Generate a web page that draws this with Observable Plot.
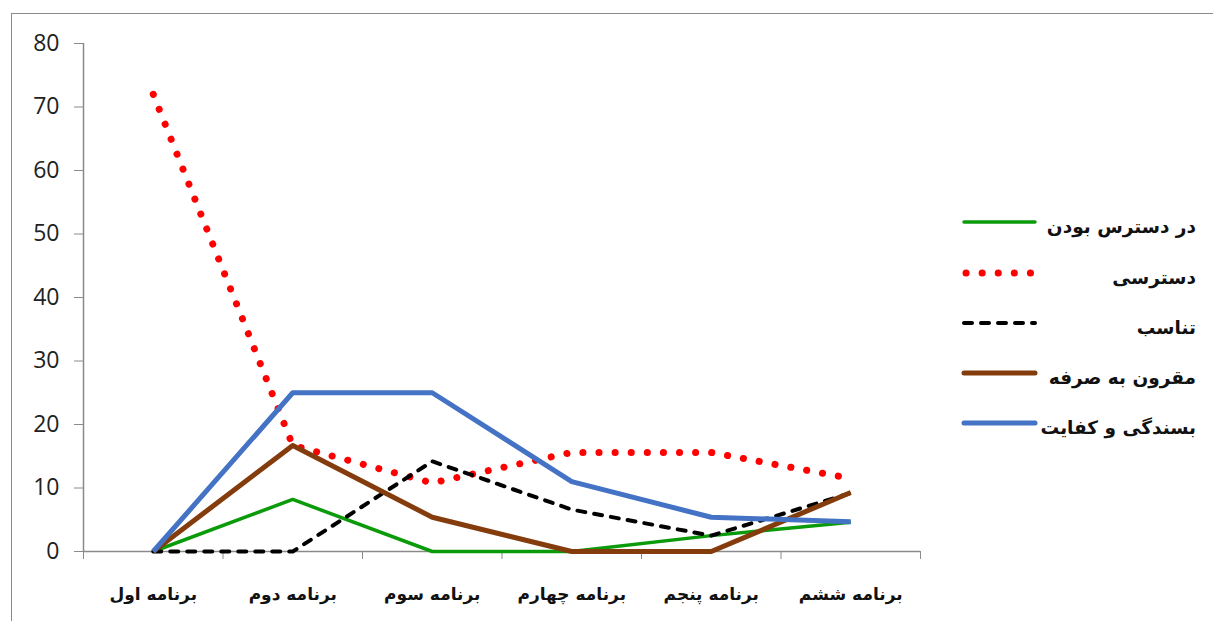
<!DOCTYPE html>
<html>
<head>
<meta charset="utf-8">
<script src="https://cdn.jsdelivr.net/npm/d3@7"></script>
<script src="https://cdn.jsdelivr.net/npm/@observablehq/plot@0.6"></script>
<style>
  html, body { margin: 0; padding: 0; background: #fff; overflow: hidden; }
  #frame { position: absolute; left: 11px; top: 13px; width: 1300px; height: 700px; border: 1.5px solid #8a8a8a; box-sizing: border-box; }
  #chart { position: absolute; left: 0; top: 0; }
  #legend { position: absolute; left: 960px; top: 200px; width: 240px; }
  .row { position: absolute; left: 0; width: 236px; height: 30px; }
  .row svg { position: absolute; left: 0; top: 0; }
  .row span { position: absolute; right: 0; top: 5px; direction: rtl; font-family: "DejaVu Sans", sans-serif; font-weight: bold; font-size: 18.5px; color: #111; white-space: nowrap; line-height: 30px; }
</style>
</head>
<body>
<div id="frame"></div>
<div id="chart"></div>
<div id="legend"></div>
<script>
const categories = ["برنامه اول", "برنامه دوم", "برنامه سوم", "برنامه چهارم", "برنامه پنجم", "برنامه ششم"];
const seriesNames = ["در دسترس بودن", "دسترسی", "تناسب", "مقرون به صرفه", "بسندگی و کفایت"];
const availableValues = [0, 8.2, 0, 0, 2.5, 4.6];
const accessValues = [72, 16.7, 10.8, 15.6, 15.6, 11.5];
const fitValues = [0, 0, 14.2, 6.6, 2.5, 9.2];
const affordableValues = [0, 16.7, 5.4, 0, 0, 9.3];
const adequacyValues = [0, 25, 25, 11, 5.4, 4.7];
const yTicks = [0, 10, 20, 30, 40, 50, 60, 70, 80];

const seriesValues = [availableValues, accessValues, fitValues, affordableValues, adequacyValues];
const styles = [
  {stroke: "#0a9a0a", strokeWidth: 3.5, strokeDasharray: null, strokeLinecap: "butt"},
  {stroke: "#ff0000", strokeWidth: 7, strokeDasharray: "0.1 16", strokeLinecap: "round"},
  {stroke: "#000000", strokeWidth: 4, strokeDasharray: "8 9", strokeLinecap: "round"},
  {stroke: "#843c0c", strokeWidth: 5, strokeDasharray: null, strokeLinecap: "butt"},
  {stroke: "#4472c4", strokeWidth: 5, strokeDasharray: null, strokeLinecap: "butt"}
];

const tables = seriesValues.map((vals, s) => vals.map((v, i) => ({x: i + 0.5, y: v, cat: categories[i], series: seriesNames[s]})));

const axisColor = "#8a8a8a";
const chart = Plot.plot({
  width: 940,
  height: 621,
  marginLeft: 83,
  marginRight: 20,
  marginTop: 43,
  marginBottom: 70,
  style: {background: "transparent", overflow: "visible"},
  x: {domain: [0, categories.length], axis: null},
  y: {domain: [0, 80], axis: null},
  marks: [
    Plot.ruleX([0], {y1: 0, y2: 80, stroke: axisColor, strokeWidth: 1.5}),
    Plot.ruleY([0], {stroke: axisColor, strokeWidth: 1.5}),
    Plot.axisY({ticks: yTicks, label: null, tickSize: 9, tickPadding: 15, stroke: axisColor, strokeOpacity: 1, fontSize: 23, fontFamily: "Open Sans", fill: "#222"}),
    Plot.axisX({ticks: d3.range(categories.length + 1), label: null, tickSize: 8, tickFormat: () => "", stroke: axisColor, strokeOpacity: 1}),
    Plot.axisX({ticks: categories.map((c, i) => i + 0.5), label: null, tickSize: 0, tickPadding: 36, tickFormat: (d) => categories[Math.floor(d)], fontSize: 17, fontWeight: "bold", fontFamily: "DejaVu Sans", fill: "#111"}),
    ...tables.map((t, s) => Plot.line(t, {x: "x", y: "y", stroke: styles[s].stroke, strokeWidth: styles[s].strokeWidth, strokeDasharray: styles[s].strokeDasharray, strokeLinecap: styles[s].strokeLinecap, strokeLinejoin: "round"}))
  ]
});
document.getElementById("chart").appendChild(chart);

const legendTops = [7, 58, 108, 158, 208];
const legend = document.getElementById("legend");
seriesNames.forEach((name, s) => {
  const row = document.createElement("div");
  row.className = "row";
  row.style.top = legendTops[s] + "px";
  const st = styles[s];
  row.innerHTML = `<svg width="80" height="30"><line x1="${s === 1 ? 6 : 4}" x2="${s === 1 ? 72 : 75}" y1="15" y2="15" stroke="${st.stroke}" stroke-width="${st.strokeWidth}" ${st.strokeDasharray ? `stroke-dasharray="${st.strokeDasharray}"` : ""} stroke-linecap="${s === 0 || s >= 3 ? "round" : st.strokeLinecap}"/></svg><span>${name}</span>`;
  legend.appendChild(row);
});
</script>
</body>
</html>
